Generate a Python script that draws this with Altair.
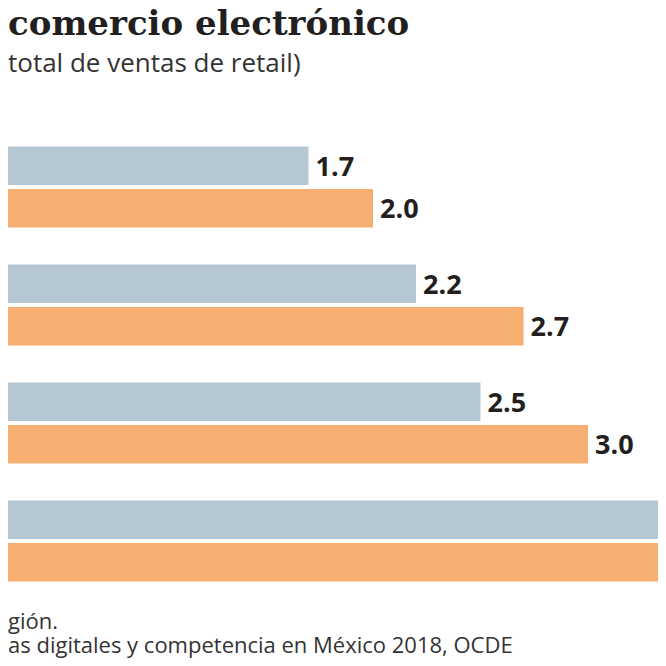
import altair as alt
import pandas as pd

# ---- data ----
grupos = ["Grupo 1", "Grupo 2", "Grupo 3", "Grupo 4"]
series = ["Serie A", "Serie B"]
serie_a = [1.7, 2.2, 2.5, 3.6]   # gris azulado
serie_b = [2.0, 2.7, 3.0, 4.3]   # naranja
colores = ["#b5c7d3", "#f7ae71"]

titulo = ["comercio electrónico"]
subtitulo = ["total de ventas de retail)"]
notas = ["gión.", "as digitales y competencia en México 2018, OCDE"]

rows = []
for g, a, b in zip(grupos, serie_a, serie_b):
    rows.append({"grupo": g, "serie": series[0], "valor": a})
    rows.append({"grupo": g, "serie": series[1], "valor": b})
df = pd.DataFrame(rows)

W, H = 650, 472
PAD_TOP, PAD_BOTTOM = 120, 58

xscale = alt.Scale(domain=[65 / 215, 715 / 215], zero=False, nice=False)
yenc = alt.Y("grupo:N", sort=grupos, axis=None,
             scale=alt.Scale(paddingInner=0.3136, paddingOuter=0.1568))
yoff = alt.YOffset("serie:N", sort=series,
                   scale=alt.Scale(paddingInner=0.094, paddingOuter=0))

base = alt.Chart(df)

bars = base.mark_bar(clip=True).encode(
    x=alt.X("valor:Q", scale=xscale, axis=None),
    x2=alt.datum(0),
    y=yenc,
    yOffset=yoff,
    color=alt.Color("serie:N", sort=series,
                    scale=alt.Scale(domain=series, range=colores), legend=None),
)

labels = base.transform_filter("datum.valor <= 3.2").mark_text(
    align="left", baseline="middle", dx=7, dy=2,
    font="Open Sans", fontWeight="bold", fontSize=27, color="#231f20",
).encode(
    x=alt.X("valor:Q", scale=xscale, axis=None),
    y=yenc,
    yOffset=yoff,
    text=alt.Text("valor:Q", format=".1f"),
)


def texto(lines, y, font, size, weight, color, line_height=None):
    kw = dict(align="left", baseline="alphabetic", font=font, fontSize=size,
              fontWeight=weight, color=color)
    if line_height is not None:
        kw["lineHeight"] = line_height
    return alt.Chart(pd.DataFrame({"t": [lines]})).mark_text(**kw).encode(
        x=alt.value(0), y=alt.value(y), text="t")


t1 = texto(titulo, 27 - PAD_TOP, "DejaVu Serif", 34, "bold", "#231f20")
t2 = texto(subtitulo, 64 - PAD_TOP, "Open Sans", 26, "normal", "#333333")
t3 = texto(notas, 621 - PAD_TOP, "Open Sans", 22, "normal", "#333333", 24)

chart = alt.layer(bars, labels, t1, t2, t3).properties(
    width=W, height=H,
    padding={"top": PAD_TOP, "left": 0, "right": 0, "bottom": PAD_BOTTOM},
    autosize=alt.AutoSizeParams(type="none"),
    background="white",
).configure_view(stroke=None)

chart.save("out.html", embed_options={"renderer": "svg", "actions": False})
